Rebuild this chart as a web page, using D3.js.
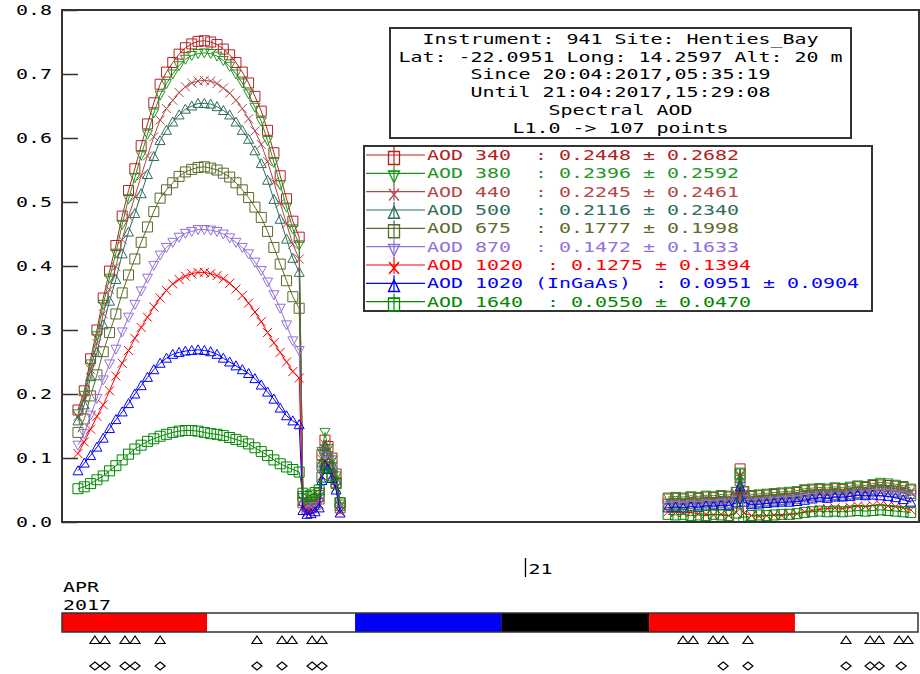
<!DOCTYPE html>
<html><head><meta charset="utf-8">
<script src="https://cdn.jsdelivr.net/npm/d3@7"></script>
<style>body{margin:0;background:#fff}svg{display:block}</style>
</head><body><svg id="c" width="920" height="674"></svg>
<script>
// ---------------- DATA ----------------
const hours = [
 6.22,6.47,6.72,6.97,7.22,7.47,7.72,7.97,8.22,8.47,8.72,8.97,9.22,9.47,9.72,9.97,10.22,10.47,10.72,10.97,11.22,11.47,11.72,11.97,12.22,12.47,12.72,12.97,13.22,13.47,13.72,13.97,14.22,14.47,14.72,14.97,
 15.12,15.28,15.44,15.60,15.76,15.87,15.99,16.11,16.27,16.43,16.59,
 29.56,29.86,30.16,30.46,30.76,31.06,31.36,31.66,31.96,32.26,32.41,32.56,32.86,33.16,33.46,33.76,34.06,34.36,34.66,34.96,35.26,35.56,35.86,36.16,36.46,36.76,37.06,37.36,37.66,37.96,38.26,38.56,38.86,39.16];

const aod340 = [
 0.175,0.205,0.255,0.300,0.350,0.392,0.432,0.478,0.518,0.552,0.588,0.622,0.655,0.684,0.703,0.718,0.731,0.741,0.747,0.751,0.752,0.750,0.746,0.739,0.730,0.718,0.703,0.686,0.665,0.642,0.612,0.577,0.541,0.505,0.470,0.445,
 0.040,0.028,0.030,0.035,0.045,0.105,0.128,0.118,0.100,0.075,0.030,
 0.036,0.037,0.036,0.038,0.037,0.039,0.038,0.040,0.039,0.046,0.083,0.047,0.040,0.041,0.042,0.043,0.044,0.045,0.046,0.049,0.050,0.051,0.050,0.052,0.051,0.053,0.055,0.054,0.057,0.058,0.057,0.056,0.054,0.050];
const aod380 = [
 0.169,0.198,0.247,0.291,0.340,0.381,0.420,0.465,0.505,0.538,0.573,0.606,0.639,0.667,0.685,0.700,0.713,0.723,0.729,0.732,0.733,0.732,0.728,0.721,0.712,0.700,0.686,0.669,0.648,0.626,0.596,0.562,0.527,0.492,0.458,0.433,
 0.038,0.026,0.028,0.034,0.043,0.110,0.140,0.115,0.097,0.072,0.028,
 0.039,0.040,0.039,0.041,0.040,0.042,0.041,0.043,0.042,0.048,0.078,0.049,0.043,0.044,0.045,0.046,0.047,0.048,0.049,0.052,0.053,0.054,0.053,0.055,0.054,0.056,0.058,0.057,0.060,0.062,0.061,0.059,0.057,0.053];
const aod440 = [
 0.165,0.193,0.238,0.279,0.325,0.363,0.399,0.441,0.477,0.508,0.541,0.572,0.602,0.628,0.646,0.659,0.671,0.680,0.686,0.689,0.690,0.689,0.685,0.678,0.670,0.659,0.646,0.630,0.611,0.590,0.563,0.531,0.498,0.466,0.434,0.411,
 0.034,0.024,0.026,0.031,0.040,0.098,0.122,0.112,0.095,0.068,0.026,
 0.032,0.033,0.032,0.034,0.033,0.035,0.034,0.036,0.035,0.042,0.072,0.043,0.036,0.037,0.038,0.039,0.040,0.041,0.042,0.045,0.046,0.047,0.046,0.048,0.047,0.049,0.051,0.050,0.053,0.054,0.053,0.052,0.050,0.046];
const aod500 = [
 0.158,0.183,0.227,0.265,0.308,0.345,0.379,0.419,0.453,0.482,0.513,0.543,0.571,0.596,0.612,0.625,0.636,0.645,0.650,0.654,0.654,0.653,0.649,0.643,0.636,0.625,0.612,0.598,0.580,0.560,0.534,0.504,0.473,0.442,0.412,0.390,
 0.032,0.022,0.024,0.029,0.038,0.093,0.118,0.108,0.090,0.065,0.024,
 0.029,0.030,0.029,0.031,0.030,0.032,0.031,0.033,0.032,0.039,0.068,0.040,0.033,0.034,0.035,0.036,0.037,0.038,0.039,0.042,0.043,0.044,0.043,0.045,0.044,0.046,0.048,0.047,0.050,0.051,0.050,0.049,0.047,0.043];
const aod675 = [
 0.140,0.161,0.197,0.230,0.266,0.296,0.325,0.358,0.386,0.411,0.437,0.461,0.485,0.506,0.519,0.530,0.540,0.547,0.551,0.554,0.555,0.553,0.550,0.545,0.539,0.530,0.519,0.507,0.492,0.476,0.454,0.429,0.403,0.377,0.352,0.334,
 0.030,0.020,0.022,0.027,0.036,0.088,0.112,0.102,0.085,0.062,0.022,
 0.027,0.028,0.027,0.029,0.028,0.030,0.029,0.031,0.030,0.037,0.065,0.038,0.031,0.032,0.033,0.034,0.035,0.036,0.037,0.040,0.041,0.042,0.041,0.043,0.042,0.044,0.046,0.045,0.048,0.049,0.048,0.047,0.045,0.041];
const aod870 = [
 0.120,0.138,0.167,0.193,0.222,0.247,0.270,0.297,0.320,0.340,0.361,0.381,0.401,0.417,0.429,0.437,0.445,0.451,0.454,0.457,0.457,0.456,0.454,0.450,0.444,0.437,0.429,0.419,0.406,0.393,0.375,0.355,0.334,0.308,0.283,0.268,
 0.026,0.018,0.020,0.024,0.032,0.080,0.103,0.095,0.080,0.058,0.020,
 0.025,0.026,0.025,0.027,0.026,0.028,0.027,0.029,0.028,0.034,0.060,0.035,0.029,0.030,0.031,0.032,0.033,0.034,0.035,0.037,0.038,0.039,0.038,0.040,0.039,0.041,0.043,0.042,0.044,0.045,0.044,0.043,0.041,0.038];
const aod1020 = [
 0.107,0.125,0.145,0.165,0.183,0.205,0.228,0.248,0.268,0.287,0.304,0.320,0.336,0.350,0.362,0.372,0.379,0.384,0.388,0.390,0.390,0.388,0.385,0.380,0.373,0.364,0.354,0.342,0.328,0.313,0.296,0.280,0.265,0.250,0.235,0.225,
 0.022,0.014,0.016,0.020,0.028,0.072,0.095,0.088,0.074,0.054,0.016,
 0.016,0.015,0.014,0.015,0.013,0.012,0.011,0.012,0.010,0.015,0.050,0.014,0.010,0.009,0.010,0.011,0.010,0.012,0.013,0.016,0.018,0.020,0.021,0.022,0.021,0.023,0.025,0.024,0.026,0.027,0.025,0.024,0.022,0.019];
const aod1020InGaAs = [
 0.080,0.092,0.104,0.117,0.131,0.146,0.160,0.172,0.185,0.200,0.213,0.226,0.238,0.248,0.256,0.262,0.265,0.267,0.268,0.269,0.268,0.266,0.262,0.256,0.250,0.244,0.238,0.232,0.224,0.214,0.203,0.192,0.178,0.166,0.158,0.152,
 0.018,0.012,0.013,0.016,0.022,0.065,0.088,0.082,0.068,0.050,0.014,
 0.022,0.023,0.022,0.024,0.023,0.025,0.025,0.026,0.026,0.030,0.055,0.031,0.027,0.028,0.029,0.030,0.031,0.031,0.032,0.034,0.036,0.038,0.037,0.039,0.039,0.040,0.042,0.041,0.042,0.041,0.040,0.038,0.035,0.031];
const aod1640 = [
 0.052,0.055,0.060,0.066,0.072,0.080,0.088,0.097,0.106,0.114,0.120,0.126,0.130,0.134,0.137,0.140,0.142,0.143,0.143,0.142,0.140,0.138,0.137,0.135,0.132,0.129,0.126,0.122,0.116,0.110,0.104,0.097,0.091,0.086,0.082,0.078,
 0.045,0.040,0.042,0.046,0.050,0.070,0.090,0.085,0.072,0.060,0.030,
 0.012,0.011,0.012,0.010,0.011,0.010,0.012,0.011,0.010,0.014,0.075,0.000,0.010,0.011,0.010,0.011,0.012,0.012,0.013,0.015,0.016,0.017,0.016,0.017,0.016,0.017,0.018,0.017,0.018,0.019,0.018,0.017,0.016,0.015];

const legendLabels = [
 "AOD 340  : 0.2448 ± 0.2682",
 "AOD 380  : 0.2396 ± 0.2592",
 "AOD 440  : 0.2245 ± 0.2461",
 "AOD 500  : 0.2116 ± 0.2340",
 "AOD 675  : 0.1777 ± 0.1998",
 "AOD 870  : 0.1472 ± 0.1633",
 "AOD 1020  : 0.1275 ± 0.1394",
 "AOD 1020 (InGaAs)  : 0.0951 ± 0.0904",
 "AOD 1640  : 0.0550 ± 0.0470"];
const seriesColors = ["#b22222","#1f961f","#b04848","#2e6e5a","#5a6b2a","#9370db","#ff0000","#0000ff","#008800"];
const seriesShapes = ["square","triDown","x","triUp","square","triDown","x","triUp","square"];
const seriesValues = [aod340,aod380,aod440,aod500,aod675,aod870,aod1020,aod1020InGaAs,aod1640];

const infoLines = [
 "Instrument: 941 Site: Henties_Bay",
 "Lat: -22.0951 Long: 14.2597 Alt: 20 m",
 "Since 20:04:2017,05:35:19",
 "Until 21:04:2017,15:29:08",
 "Spectral AOD",
 "L1.0 -> 107 points"];
const yTicks = [0,0.1,0.2,0.3,0.4,0.5,0.6,0.7,0.8];
const dayTicks = [24];
const dayTickLabels = ["21"];
const monthLabel = ["APR","2017"];
const barBounds = [5.589,11.33,17.18,22.96,28.81,34.58,39.486];
const barColors = ["#ff0000","#ffffff","#0000ff","#000000","#ff0000","#ffffff"];
const triangleHours = [6.89,7.29,8.08,8.48,9.47,13.30,14.29,14.69,15.48,15.87,30.15,30.55,31.34,31.74,32.72,36.60,37.55,37.91,38.70,39.05];
const diamondHours = [6.89,7.29,8.08,8.48,9.47,13.30,14.29,15.48,15.87,31.74,32.72,36.60,37.55,37.91,38.78];

// ---------------- DRAW ----------------
const svg = d3.select("#c");
const FONT = "'DejaVu Sans Mono', 'Liberation Mono', monospace";
const PITCH = 12;
const L = 62, R = 919, T = 10, B = 522;
const x = d3.scaleLinear().domain([5.589, 39.486]).range([L, R]);
const y = d3.scaleLinear().domain([0, 0.8]).range([B, T]);

function txt(g, px, py, s, color, anchor) {
  const w = s.length * PITCH;
  let sx = px;
  if (anchor === "middle") sx = px - w / 2;
  if (anchor === "end") sx = px - w;
  return g.append("text").attr("x", sx).attr("y", py)
    .attr("font-family", FONT).attr("font-size", 14)
    .attr("fill", color || "#000")
    .attr("textLength", w).attr("lengthAdjust", "spacingAndGlyphs")
    .style("white-space", "pre").text(s);
}
function markerPath(shape) {
  switch (shape) {
    case "square": return "M-5,-5h10v10h-10z";
    case "triUp": return "M0,-5L5,4L-5,4Z";
    case "triDown": return "M0,5L5,-4L-5,-4Z";
    case "x": return "M-4.5,-4.5L4.5,4.5M-4.5,4.5L4.5,-4.5";
  }
}

svg.append("defs").append("clipPath").attr("id", "pc")
  .append("rect").attr("x", L).attr("y", T).attr("width", R - L).attr("height", B - T);

const plot = svg.append("g").attr("clip-path", "url(#pc)");
const line = d3.line().x(d => x(d[0])).y(d => y(d[1]));

seriesValues.forEach((vals, si) => {
  const pts = hours.map((h, i) => [h, vals[i]]);
  // split where time gap is large
  const segs = [];
  let cur = [];
  pts.forEach((p, i) => {
    if (i > 0 && p[0] - pts[i - 1][0] > 3) { segs.push(cur); cur = []; }
    cur.push(p);
  });
  segs.push(cur);
  const g = plot.append("g");
  segs.forEach(s => g.append("path").attr("d", line(s)).attr("fill", "none")
    .attr("stroke", seriesColors[si]).attr("stroke-width", 1));
  g.selectAll("path.m").data(pts).enter().append("path").attr("class", "m")
    .attr("d", markerPath(seriesShapes[si]))
    .attr("transform", d => `translate(${x(d[0])},${y(d[1])})`)
    .attr("fill", "none").attr("stroke", seriesColors[si]).attr("stroke-width", 1);
});

// frame
svg.append("rect").attr("x", L).attr("y", T).attr("width", R - L).attr("height", B - T)
  .attr("fill", "none").attr("stroke", "#333").attr("stroke-width", 2);

// y axis (inward ticks)
const yAxis = d3.axisLeft(y).tickValues(yTicks).tickSizeInner(-16).tickSizeOuter(0)
  .tickPadding(26).tickFormat(d3.format(".1f"));
const ya = svg.append("g").attr("transform", `translate(${L},0)`).call(yAxis);
ya.select(".domain").remove();
ya.selectAll(".tick line").attr("stroke", "#333").attr("stroke-width", 1.5);
ya.selectAll(".tick text").remove();
yTicks.forEach(v => txt(svg, 52, y(v) + 5, d3.format(".1f")(v), "#000", "end"));

// info box
svg.append("rect").attr("x", 390).attr("y", 28).attr("width", 461).attr("height", 110)
  .attr("fill", "#fff").attr("stroke", "#333").attr("stroke-width", 2);
infoLines.forEach((s, i) => txt(svg, 620.5, 44 + i * 17.7, s, "#000", "middle"));

// legend
svg.append("rect").attr("x", 364).attr("y", 146).attr("width", 508).attr("height", 165)
  .attr("fill", "#fff").attr("stroke", "#333").attr("stroke-width", 2);
legendLabels.forEach((s, i) => {
  const cy = 155 + i * 18.33;
  const c = seriesColors[i];
  svg.append("line").attr("x1", 366).attr("x2", 425).attr("y1", cy).attr("y2", cy)
    .attr("stroke", c).attr("stroke-width", 1.2);
  svg.append("line").attr("x1", 394).attr("x2", 394).attr("y1", cy - 8).attr("y2", cy + 9)
    .attr("stroke", c).attr("stroke-width", 1.2);
  svg.append("path").attr("d", markerPath(seriesShapes[i]))
    .attr("transform", `translate(394,${cy + 3}) scale(1.1,1.3)`)
    .attr("fill", "none").attr("stroke", c).attr("stroke-width", 1.2);
  txt(svg, 427, cy + 5, s, c, "start");
});

// day label under plot
const xa = d3.axisBottom(x).tickValues(dayTicks).tickSize(0).tickFormat("");
const xg = svg.append("g").attr("transform", `translate(0,${B})`).call(xa);
xg.select(".domain").remove();
dayTicks.forEach((h, i) => {
  svg.append("line").attr("x1", x(h) - 2).attr("x2", x(h) - 2).attr("y1", 558).attr("y2", 577)
    .attr("stroke", "#000").attr("stroke-width", 1.3);
  txt(svg, x(h) + 1, 574, dayTickLabels[i], "#000", "start");
});
txt(svg, 63, 592, monthLabel[0], "#000", "start");
txt(svg, 63, 610, monthLabel[1], "#000", "start");

// colour bar
for (let i = 0; i < barColors.length; i++) {
  svg.append("rect").attr("x", x(barBounds[i])).attr("y", 613)
    .attr("width", x(barBounds[i + 1]) - x(barBounds[i])).attr("height", 19)
    .attr("fill", barColors[i]);
}
svg.append("rect").attr("x", x(barBounds[0])).attr("y", 613)
  .attr("width", 856).attr("height", 19)
  .attr("fill", "none").attr("stroke", "#333").attr("stroke-width", 1.5);

// triangles and diamonds
svg.selectAll("path.tri").data(triangleHours).enter().append("path").attr("class", "tri")
  .attr("d", "M0,-4L5,3.5L-5,3.5Z").attr("transform", d => `translate(${x(d)},640)`)
  .attr("fill", "#fff").attr("stroke", "#000").attr("stroke-width", 1.2);
svg.selectAll("path.dia").data(diamondHours).enter().append("path").attr("class", "dia")
  .attr("d", "M0,-4L5,0L0,4L-5,0Z").attr("transform", d => `translate(${x(d)},666)`)
  .attr("fill", "#fff").attr("stroke", "#000").attr("stroke-width", 1.2);
</script>
</body></html>
